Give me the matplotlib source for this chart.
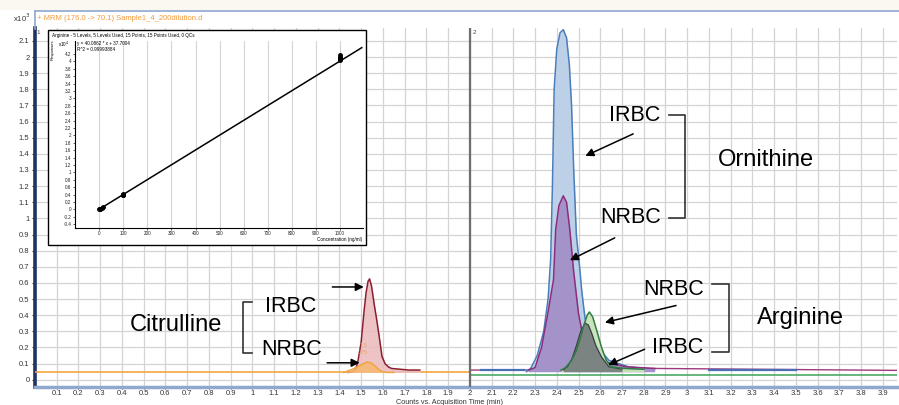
import numpy as np
import matplotlib
matplotlib.use("Agg")
from matplotlib import pyplot as plt
from matplotlib.patches import Rectangle
from matplotlib.lines import Line2D

plt.rcParams['font.family'] = ['Liberation Sans', 'DejaVu Sans']

# ---- chromatogram traces (time in min, counts x10^3) ----
cit_irbc_t = [1.44, 1.46, 1.475, 1.486, 1.50, 1.514, 1.523, 1.532, 1.539, 1.548, 1.56, 1.572,
              1.583, 1.596, 1.61, 1.625, 1.64, 1.68, 1.72, 1.77]
cit_irbc_y = [0.045, 0.05, 0.06, 0.12, 0.23, 0.43, 0.54, 0.61, 0.625, 0.58, 0.47, 0.37,
              0.27, 0.145, 0.10, 0.08, 0.07, 0.065, 0.06, 0.06]

cit_nrbc_t = [1.42, 1.43, 1.46, 1.49, 1.51, 1.528, 1.545, 1.565, 1.58, 1.596, 1.62, 1.65]
cit_nrbc_y = [0.045, 0.05, 0.065, 0.085, 0.10, 0.11, 0.105, 0.085, 0.065, 0.05, 0.045, 0.045]

orn_irbc_t = [2.26, 2.28, 2.31, 2.34, 2.36, 2.372, 2.38, 2.388, 2.40, 2.415, 2.43, 2.445,
              2.458, 2.468, 2.478, 2.49, 2.505, 2.515, 2.53, 2.55, 2.59, 2.64, 2.73, 2.85]
orn_irbc_y = [0.05, 0.07, 0.15, 0.30, 0.50, 0.75, 1.20, 1.80, 2.05, 2.15, 2.17, 2.12,
              1.95, 1.70, 1.30, 0.90, 0.70, 0.55, 0.38, 0.28, 0.20, 0.12, 0.08, 0.065]

orn_nrbc_t = [2.27, 2.30, 2.33, 2.36, 2.385, 2.395, 2.41, 2.43, 2.445, 2.46, 2.477, 2.50,
              2.523, 2.555, 2.59, 2.64, 2.72, 2.85]
orn_nrbc_y = [0.06, 0.075, 0.20, 0.42, 0.62, 0.93, 1.08, 1.14, 1.10, 0.93, 0.68, 0.41,
              0.25, 0.17, 0.135, 0.105, 0.08, 0.07]

arg_nrbc_t = [2.42, 2.44, 2.468, 2.49, 2.507, 2.525, 2.54, 2.55, 2.565, 2.583, 2.606, 2.628,
              2.65, 2.715, 2.80]
arg_nrbc_y = [0.06, 0.075, 0.12, 0.18, 0.25, 0.34, 0.40, 0.42, 0.39, 0.31, 0.20, 0.12,
              0.08, 0.07, 0.065]

arg_irbc_t = [2.43, 2.45, 2.47, 2.49, 2.51, 2.53, 2.545, 2.56, 2.58, 2.606, 2.64, 2.70]
arg_irbc_y = [0.06, 0.08, 0.13, 0.21, 0.30, 0.35, 0.34, 0.29, 0.21, 0.14, 0.08, 0.065]

# baselines
orange_base_t = [0.0, 1.42, 1.65, 2.0, 2.0]
orange_base_y = [0.045, 0.045, 0.045, 0.045, -0.02]
green_base_t = [2.0, 3.965]
green_base_y = [0.03, 0.03]
purple_base_t = [2.0, 2.27, 2.85, 3.965]
purple_base_y = [0.06, 0.06, 0.07, 0.058]
blue_seg_t = [[3.1, 3.5], [2.05, 2.25]]
blue_seg_y = [[0.06, 0.06], [0.062, 0.062]]

# ---- calibration inset (Arginine) ----
cal_conc = [0, 2, 5, 10, 15, 100, 100, 100, 1000, 1000, 1000, 1000, 1000]
cal_resp = [0.0, 0.01, 0.02, 0.04, 0.06, 0.38, 0.40, 0.41, 4.03, 4.07, 4.10, 4.13, 4.16]
fit_x = [0, 1090]
fit_y = [0.004, 4.37]

W, H = 899, 405
fig = plt.figure(figsize=(W / 100, H / 100), dpi=100)

def fx(px):
    return px / W

def fy(py):
    return 1 - py / H

# top band and title frame
fig.patches.append(Rectangle((0, fy(10)), 1, 10 / H, transform=fig.transFigure,
                             facecolor='#FBF8F1', edgecolor='none', zorder=0))
fig.lines.append(Line2D([fx(35), 1], [fy(10.5), fy(10.5)], transform=fig.transFigure,
                        color='#8FA8CF', lw=1.2))
fig.lines.append(Line2D([fx(35), fx(35)], [fy(10.5), fy(29)], transform=fig.transFigure,
                        color='#8FA8CF', lw=1.2))
fig.text(fx(37), fy(18), '+ MRM (176.0 -> 70.1) Sample1_4_200dilution.d', color='#F39A3C',
         fontsize=5.5, va='center', ha='left')
fig.text(fx(13), fy(18), r'x10$^{3}$', fontsize=5.5, va='center', ha='left', color='#333333')

ax = fig.add_axes([fx(35), fy(387), fx(897 - 35), (387 - 28) / H])
ax.set_xlim(0, 3.965)
ax.set_ylim(-0.045, 2.18)

xt = np.round(np.arange(0.1, 3.95, 0.1), 1)
ax.set_xticks(xt)
ax.set_xticklabels(['%g' % v for v in xt])
yt = np.round(np.arange(0, 2.15, 0.1), 1)
ax.set_yticks(yt)
ax.set_yticklabels(['%g' % v for v in yt])
ax.tick_params(axis='both', labelsize=5.5, colors='#333333', length=2.5, width=0.8, pad=1.5)
ax.tick_params(axis='x', length=1.5, pad=0.5)
ax.grid(True, color='#D4D4D4', lw=0.9)
ax.set_axisbelow(True)
for s in ['top', 'right']:
    ax.spines[s].set_visible(False)
ax.spines['left'].set_color('#1F3461')
ax.spines['left'].set_linewidth(2.6)
ax.spines['bottom'].set_color('#8FA8CF')
ax.spines['bottom'].set_linewidth(2.5)

# panel separator
ax.axvline(2.0, color='#6E6E6E', lw=1.6, zorder=6)
ax.text(0.006, 2.165, '1', fontsize=4.5, color='#444444', va='top')
ax.text(2.012, 2.165, '2', fontsize=4.5, color='#444444', va='top')

# baselines
ax.plot(orange_base_t, orange_base_y, color='#F2A541', lw=1.2, zorder=3)
ax.plot(green_base_t, green_base_y, color='#3DA35A', lw=1.1, zorder=3)
ax.plot(purple_base_t, purple_base_y, color='#A0387F', lw=1.0, zorder=3)
for t, y in zip(blue_seg_t, blue_seg_y):
    ax.plot(t, y, color='#4A6FB5', lw=1.6, zorder=3)

# citrulline peaks
ax.fill_between(cit_irbc_t, 0.045, cit_irbc_y, color='#EBBDBF', alpha=0.9, zorder=3, lw=0)
ax.plot(cit_irbc_t, cit_irbc_y, color='#8B1E2E', lw=1.1, zorder=4)
ax.fill_between(cit_nrbc_t, 0.045, cit_nrbc_y, color='#F7B877', alpha=0.9, zorder=4, lw=0)
ax.plot(cit_nrbc_t, cit_nrbc_y, color='#F2A541', lw=1.1, zorder=4)
ax.text(1.51, 0.205, '1.5', fontsize=4, color='#E9A060', ha='center', zorder=5)
ax.text(1.51, 0.16, '275', fontsize=4, color='#E9A060', ha='center', zorder=5)

# ornithine / arginine peaks
ax.fill_between(orn_irbc_t, 0.05, orn_irbc_y, color='#BCD0E8', zorder=3, lw=0)
ax.plot(orn_irbc_t, orn_irbc_y, color='#4A7EBB', lw=1.1, zorder=3)
ax.fill_between(orn_nrbc_t, 0.05, orn_nrbc_y, color='#A393C8', zorder=4, lw=0)
ax.plot(orn_nrbc_t, orn_nrbc_y, color='#8E2C7C', lw=1.1, zorder=4)
ax.fill_between(arg_nrbc_t, 0.05, arg_nrbc_y, color='#C6E3B8', alpha=0.95, zorder=4, lw=0)
ax.plot(arg_nrbc_t, arg_nrbc_y, color='#2F7D45', lw=1.1, zorder=5)
ax.fill_between(arg_irbc_t, 0.05, arg_irbc_y, color='#6E7478', alpha=0.85, zorder=4.5, lw=0)
ax.plot(arg_irbc_t, arg_irbc_y, color='#3A3F44', lw=0.9, zorder=4.5)

# annotations
fs = 15.5
fs_name = 17
arrow = dict(arrowstyle='-|>', color='black', lw=1.1, mutation_scale=12)
ax.text(0.647, 0.34, 'Citrulline', fontsize=fs_name, ha='center', va='center', zorder=7)
ax.text(1.175, 0.452, 'IRBC', fontsize=fs, ha='center', va='center', zorder=7)
ax.text(1.18, 0.19, 'NRBC', fontsize=fs, ha='center', va='center', zorder=7)
ax.plot([0.996, 0.955, 0.955, 0.996], [0.483, 0.483, 0.167, 0.167], color='#333333', lw=1.2, zorder=7)
ax.annotate('', xy=(1.525, 0.575), xytext=(1.355, 0.575), arrowprops=arrow, zorder=7)
ax.annotate('', xy=(1.506, 0.105), xytext=(1.331, 0.105), arrowprops=arrow, zorder=7)

ax.text(2.76, 1.64, 'IRBC', fontsize=fs, ha='center', va='center', zorder=7)
ax.text(2.739, 1.003, 'NRBC', fontsize=fs, ha='center', va='center', zorder=7)
ax.text(3.361, 1.362, 'Ornithine', fontsize=fs_name, ha='center', va='center', zorder=7)
ax.plot([2.915, 2.988, 2.988, 2.915], [1.641, 1.641, 1.001, 1.001], color='#333333', lw=1.2, zorder=7)
ax.annotate('', xy=(2.52, 1.38), xytext=(2.763, 1.531), arrowprops=arrow, zorder=7)
ax.annotate('', xy=(2.449, 0.733), xytext=(2.678, 0.887), arrowprops=arrow, zorder=7)

ax.text(2.938, 0.557, 'NRBC', fontsize=fs, ha='center', va='center', zorder=7)
ax.text(2.957, 0.198, 'IRBC', fontsize=fs, ha='center', va='center', zorder=7)
ax.text(3.52, 0.384, 'Arginine', fontsize=fs_name, ha='center', va='center', zorder=7)
ax.plot([3.113, 3.191, 3.191, 3.113], [0.594, 0.594, 0.175, 0.175], color='#333333', lw=1.2, zorder=7)
ax.annotate('', xy=(2.609, 0.351), xytext=(2.961, 0.464), arrowprops=arrow, zorder=7)
ax.annotate('', xy=(2.625, 0.085), xytext=(2.816, 0.196), arrowprops=arrow, zorder=7)

fig.text(fx(450), fy(403), 'Counts vs. Acquisition Time (min)', fontsize=5.2, ha='center',
         va='center', color='#333333')

# ---- inset calibration curve ----
fig.patches.append(Rectangle((fx(48), fy(245)), fx(366 - 48), (245 - 30) / H,
                             transform=fig.transFigure, facecolor='white', edgecolor='black',
                             lw=1.0, zorder=5))
ins = fig.add_axes([fx(75), fy(228), fx(363 - 75), (228 - 41) / H], zorder=6)
ins.patch.set_alpha(0)
ins.set_xlim(-100, 1095)
ins.set_ylim(-0.5, 4.55)
ins.set_xticks(np.arange(0, 1001, 100))
yti = np.round(np.arange(-0.4, 4.21, 0.2), 1)
ins.set_yticks(yti)
ins.set_yticklabels(['%g' % v for v in yti])
ins.tick_params(labelsize=3.3, length=1.5, width=0.5, pad=1, colors='#222222')
ins.set_yticks(np.round(np.arange(-0.2, 4.5, 0.4), 1), minor=True)
ins.tick_params(which='minor', length=0)
ins.grid(True, axis='x', color='#D4D4D4', lw=0.8)
ins.grid(True, axis='y', which='minor', color='#D4D4D4', lw=0.8)
for s in ['top', 'right']:
    ins.spines[s].set_visible(False)
ins.spines['left'].set_linewidth(0.8)
ins.spines['bottom'].set_linewidth(0.8)
ins.plot(fit_x, fit_y, color='black', lw=1.1)
ins.plot(cal_conc, cal_resp, 'o', color='black', ms=2.5)
fig.text(fx(53), fy(50), 'Responses', fontsize=3, rotation=90, ha='center', va='center', zorder=7)
fig.text(fx(362), fy(239), 'Concentration (ng/ml)', fontsize=3.3, ha='right', va='center', zorder=7)
fig.text(fx(58), fy(44), r'x10$^{4}$', fontsize=3.3, ha='left', va='center', zorder=7)
fig.text(fx(77), fy(44), 'y = 40.0862 * x + 37.7004', fontsize=3.3, ha='left', va='center', zorder=7)
fig.text(fx(77), fy(49.5), 'R^2 = 0.99993884', fontsize=3.3, ha='left', va='center', zorder=7)
fig.text(fx(52), fy(35), 'Arginine - 5 Levels, 5 Levels Used, 15 Points, 15 Points Used, 0 QCs',
         fontsize=3.3, ha='left', va='center', zorder=7)

fig.savefig('out.png', dpi=100)
